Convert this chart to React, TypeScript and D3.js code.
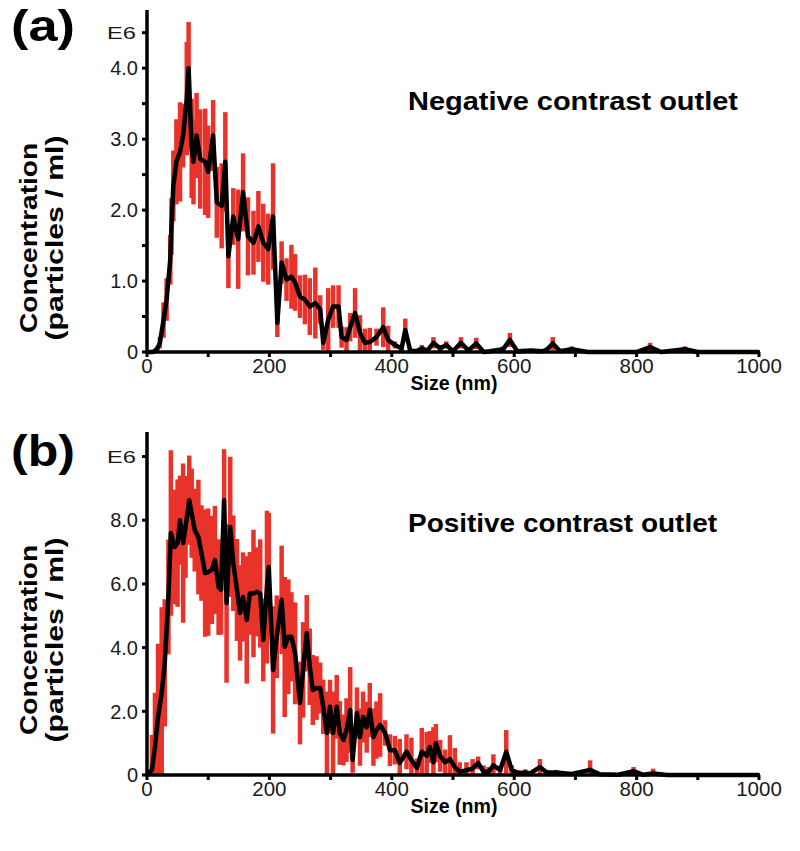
import React from "react";
import * as d3 from "d3";

// ---------- Data ----------
// Panel (a): Negative contrast outlet, concentration in E6 particles/ml
const sizeA = [0,10,13,17,21,27,32,38,40,43,48,54,59,65,68,73,76,81,87,95,100,108,114,122,128,133,141,149,157,165,174,182,190,198,206,213,220,228,236,242,250,258,266,275,283,288,296,304,313,318,326,332,340,348,356,364,375,386,394,405,416,422,430,440,449,458,468,479,489,500,513,525,538,550,560,582,593,605,628,645,653,663,675,694,720,800,822,840,879,900,1000];
const meanA = [0,0,0.02,0.05,0.13,0.45,0.74,1.3,1.77,2.34,2.68,2.82,3.05,3.57,4.0,2.87,2.68,3.05,2.72,2.68,2.54,3.05,2.11,2.06,2.68,1.35,1.91,1.59,2.25,1.63,1.54,1.77,1.54,1.45,1.91,0.41,1.26,1.02,1.06,0.98,0.78,0.74,0.64,0.69,0.6,0.13,0.45,0.64,0.64,0.21,0.17,0.35,0.55,0.27,0.13,0.14,0.21,0.35,0.17,0.1,0.05,0.31,0.02,0.01,0.05,0.02,0.13,0.05,0.1,0.01,0.13,0.02,0.12,0,0.01,0.04,0.17,0.01,0.02,0.01,0.03,0.12,0.01,0.04,0,0,0.07,0,0.04,0,0];
const errA = [0,0,0,0.03,0.08,0.25,0.3,0.35,0.4,0.5,0.6,0.7,0.45,0.8,0.65,0.7,0.6,0.6,0.7,0.75,0.65,0.5,0.5,0.6,0.7,0.45,0.4,0.7,0.55,0.55,0.45,0.5,0.55,0.5,0.75,0.2,0.3,0.3,0.45,0.4,0.3,0.35,0.4,0.5,0.2,0.1,0.45,0.3,0.3,0.15,0.18,0.2,0.35,0.25,0.2,0.2,0.12,0.28,0.2,0.05,0.05,0.16,0.02,0.01,0.05,0.02,0.08,0.05,0.05,0.01,0.08,0.02,0.08,0,0.01,0.04,0.1,0.01,0.02,0.01,0.03,0.09,0.01,0.04,0,0,0.06,0,0.04,0,0];

// Panel (b): Positive contrast outlet
const sizeB = [0,8,13,18,24,29,35,39,45,50,54,59,63,69,73,78,84,89,95,100,106,111,117,121,126,130,136,141,147,152,157,163,168,174,179,185,190,196,199,206,212,220,225,231,236,242,250,255,261,266,271,277,283,288,294,299,304,310,315,321,326,332,336,343,348,353,359,364,370,375,381,389,397,405,413,424,432,441,449,457,462,468,472,479,487,495,503,511,522,532,541,550,558,566,577,587,596,609,618,626,642,653,669,694,724,740,770,795,810,827,850,1000];
const meanB = [0,0.16,0.88,1.82,2.57,3.52,5.59,7.6,7.16,7.28,8.0,7.28,7.79,8.63,8.22,7.69,7.47,6.97,6.34,6.37,6.44,6.75,5.9,5.81,8.63,5.4,7.79,6.65,5.81,5.09,5.59,4.87,5.7,5.7,5.75,5.7,4.24,5.9,6.53,3.3,4.34,5.5,4.02,4.34,4.34,3.82,2.26,3.3,4.45,3.4,2.67,2.73,2.73,2.14,1.32,2.14,1.32,2.14,1.32,1.1,1.41,2.04,0.47,1.95,1.19,1.82,1.5,2.04,1.19,1.41,1.57,1.32,0.78,0.78,0.38,0.73,0.47,0.22,0.73,0.6,0.88,0.4,1.0,0.6,0.4,0.5,0.25,0.1,0.15,0.2,0.38,0.1,0.1,0.3,0.15,0.73,0.15,0.05,0.08,0.05,0.25,0.08,0.08,0.03,0.16,0.02,0.01,0.12,0.01,0.05,0,0];
const errB = [0,1.1,1.7,2.3,2.7,2.0,1.8,2.6,1.8,2.0,1.4,2.5,1.6,1.4,1.4,1.3,1.8,1.5,2.0,2.0,1.7,1.7,1.5,1.4,1.6,2.5,2.2,1.5,1.6,1.5,1.4,2.0,1.3,2.0,1.4,1.7,1.3,2.4,1.7,2.0,1.3,1.7,2.2,1.8,1.4,1.6,1.3,1.5,1.2,1.2,1.1,1.0,0.8,0.85,1.3,0.85,1.3,1.0,1.0,0.8,1.0,1.35,0.4,0.8,0.9,0.8,0.8,0.85,0.9,0.9,1.0,0.4,0.5,0.45,0.75,0.55,0.7,0.3,0.75,0.75,0.5,1.1,0.6,0.5,0.4,0.75,0.6,0.3,0.25,0.3,0.2,0.2,0.15,0.35,0.15,0.68,0.15,0.1,0.1,0.05,0.25,0.08,0.08,0.03,0.3,0.02,0.01,0.13,0.01,0.15,0,0];

const xTicks = [0, 200, 400, 600, 800, 1000];
const xMinorTicks = [0, 100, 200, 300, 400, 500, 600, 700, 800, 900, 1000];
const yTicksA = [0, 1, 2, 3, 4];
const yMinorA = [0, 0.5, 1, 1.5, 2, 2.5, 3, 3.5, 4, 4.5];
const yTicksB = [0, 2, 4, 6, 8];
const yMinorB = [0, 2, 4, 6, 8, 10];

const FONT = "'Liberation Sans', Arial, Helvetica, sans-serif";
const RED = "#e8322a";

type PanelProps = {
  sizes: number[];
  means: number[];
  errs: number[];
  yMax: number;
  yTicks: number[];
  yMinor: number[];
  e6At: number;
  top: number;
  bottom: number;
  titleMid: number;
  letterBase: number;
  letter: string;
  title: string;
  titleLen: number;
};

function Panel(p: PanelProps) {
  const x = d3.scaleLinear().domain([0, 1000]).range([147, 759]);
  const y = d3.scaleLinear().domain([0, p.yMax]).range([p.bottom, p.top]);
  const line = d3
    .line<number>()
    .x((_, i) => x(p.sizes[i]))
    .y((m) => y(m));
  const fmt = (v: number) => (v === 0 ? "0" : v.toFixed(1));
  return (
    <g>
      {/* error bars */}
      {p.sizes.map((s, i) =>
        p.errs[i] > 0 ? (
          <line
            key={"e" + i}
            x1={x(s)}
            x2={x(s)}
            y1={y(Math.max(0, p.means[i] - p.errs[i]))}
            y2={y(p.means[i] + p.errs[i])}
            stroke={RED}
            strokeWidth={4.5}
          />
        ) : null
      )}
      {/* mean line */}
      <path d={line(p.means) || ""} fill="none" stroke="#000" strokeWidth={4.5} strokeLinejoin="round" />
      {/* axes */}
      <line x1={147} x2={147} y1={p.top} y2={p.bottom + 1.5} stroke="#000" strokeWidth={3.5} />
      <line x1={145.5} x2={760} y1={p.bottom} y2={p.bottom} stroke="#000" strokeWidth={3.5} />
      {p.yMinor.map((v) => (
        <line key={"ym" + v} x1={142} x2={147} y1={y(v)} y2={y(v)} stroke="#000" strokeWidth={3} />
      ))}
      {xMinorTicks.map((v) => (
        <line key={"xm" + v} x1={x(v)} x2={x(v)} y1={p.bottom} y2={p.bottom + 5} stroke="#000" strokeWidth={3} />
      ))}
      {p.yTicks.map((v) => (
        <text key={"yt" + v} x={138} y={y(v)} dy="0.36em" textAnchor="end" fontFamily={FONT} fontSize={20} fill="#1a1a1a">
          {fmt(v)}
        </text>
      ))}
      <text x={136} y={y(p.e6At)} dy="0.36em" textAnchor="end" fontFamily={FONT} fontSize={17} fill="#1a1a1a" textLength={29} lengthAdjust="spacingAndGlyphs">
        E6
      </text>
      {xTicks.map((v) => (
        <text key={"xt" + v} x={x(v)} y={p.bottom + 21} textAnchor="middle" fontFamily={FONT} fontSize={20.5} fill="#1a1a1a">
          {v}
        </text>
      ))}
      <text x={454} y={p.bottom + 38} textAnchor="middle" fontFamily={FONT} fontSize={21} fontWeight="bold" textLength={87} lengthAdjust="spacingAndGlyphs">
        Size (nm)
      </text>
      <text transform={`translate(37,${p.titleMid}) rotate(-90)`} textAnchor="middle" fontFamily={FONT} fontSize={24} fontWeight="bold" textLength={190} lengthAdjust="spacingAndGlyphs">
        Concentration
      </text>
      <text transform={`translate(63,${p.titleMid}) rotate(-90)`} textAnchor="middle" fontFamily={FONT} fontSize={24} fontWeight="bold" textLength={205} lengthAdjust="spacingAndGlyphs">
        (particles / ml)
      </text>
      <text x={11} y={p.letterBase} fontFamily={FONT} fontSize={45} fontWeight="bold" textLength={64} lengthAdjust="spacingAndGlyphs">
        {p.letter}
      </text>
      <text x={408} y={p.top + 100} fontFamily={FONT} fontSize={25} fontWeight="bold" textLength={p.titleLen} lengthAdjust="spacingAndGlyphs">
        {p.title}
      </text>
    </g>
  );
}

export default function App() {
  return (
    <svg width={800} height={851} style={{ position: "absolute", left: 0, top: 0, background: "#fff" }}>
      <rect width={800} height={851} fill="#fff" />
      <Panel
        sizes={sizeA}
        means={meanA}
        errs={errA}
        yMax={4.82}
        yTicks={yTicksA}
        yMinor={yMinorA}
        e6At={4.5}
        top={10}
        bottom={352}
        titleMid={238}
        letterBase={41}
        letter="(a)"
        title="Negative contrast outlet"
        titleLen={330}
      />
      <Panel
        sizes={sizeB}
        means={meanB}
        errs={errB}
        yMax={10.77}
        yTicks={yTicksB}
        yMinor={yMinorB}
        e6At={10}
        top={432}
        bottom={775}
        titleMid={640}
        letterBase={466}
        letter="(b)"
        title="Positive contrast outlet"
        titleLen={309}
      />
    </svg>
  );
}
